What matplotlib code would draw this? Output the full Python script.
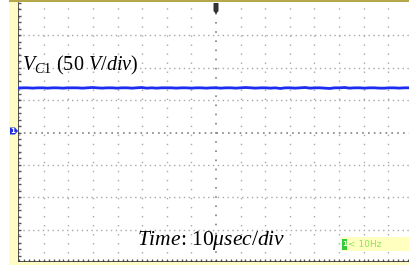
import matplotlib
matplotlib.use("Agg")
import matplotlib.pyplot as plt
from matplotlib.patches import Rectangle, Polygon
import numpy as np

plt.rcParams['mathtext.fontset'] = 'custom'
plt.rcParams['mathtext.rm'] = 'Liberation Serif'
plt.rcParams['mathtext.it'] = 'Liberation Serif:italic'
plt.rcParams['font.family'] = ['Liberation Serif', 'DejaVu Serif']

# Data (in screen divisions; 8 vertical divisions, centre = 0)
trace_time = np.linspace(-8.05, 7.85, 80)
trace_vc1 = [1.37, 1.38, 1.38, 1.37, 1.38, 1.38, 1.37, 1.38, 1.38, 1.37,
             1.38, 1.38, 1.38, 1.37, 1.38, 1.39, 1.38, 1.37, 1.38, 1.38,
             1.37, 1.38, 1.38, 1.37, 1.38, 1.39, 1.37, 1.38, 1.37, 1.38,
             1.38, 1.38, 1.37, 1.38, 1.38, 1.37, 1.38, 1.38, 1.37, 1.38,
             1.38, 1.37, 1.38, 1.38, 1.37, 1.38, 1.39, 1.38, 1.37, 1.38,
             1.38, 1.37, 1.38, 1.36, 1.38, 1.38, 1.37, 1.38, 1.39, 1.37,
             1.38, 1.38, 1.37, 1.36, 1.38, 1.38, 1.39, 1.37, 1.38, 1.38,
             1.37, 1.38, 1.38, 1.37, 1.37, 1.38, 1.38, 1.37, 1.38, 1.38]
label_signal = r"$V_{C\mathrm{1}}$ (50 $V/div$)"
label_time = r"$Time$: 10$\mu sec/div$"
label_trigger = "< 10Hz"

W, H = 409, 265
fig = plt.figure(figsize=(W / 100, H / 100), dpi=100)
fig.patch.set_facecolor('white')

def px_rect(x0, y0, x1, y1, **kw):
    fig.patches.append(Rectangle((x0 / W, 1 - y1 / H), (x1 - x0) / W, (y1 - y0) / H,
                                 transform=fig.transFigure, **kw))

px_rect(9, 0, 18, 265, facecolor='#fffcc6', edgecolor='none', zorder=0)
px_rect(9, 262, 409, 265, facecolor='#fffcc6', edgecolor='none', zorder=0)
px_rect(9, 0, 409, 1.5, facecolor='#b5a84a', edgecolor='none', zorder=0)

ax = fig.add_axes([18 / W, 3 / H, 391 / W, 259 / H])
ax.set_facecolor('white')
ax.set_xlim(-8.05, 7.85)
ax.set_ylim(-4, 4)

grid_col = '#a8a8a8'
for xv in range(-8, 8):
    if xv == 0:
        continue
    ax.axvline(xv, color=grid_col, lw=1.0, ls=(0, (1, 5.5)), zorder=1)
for yv in range(-3, 4):
    if yv == 0:
        continue
    ax.axhline(yv, color=grid_col, lw=1.0, ls=(0, (1, 2.5)), zorder=1)
ax.axvline(0, color='#808080', lw=1.2, ls=(0, (1, 4.5)), zorder=1)
ax.axhline(0, color='#808080', lw=1.2, ls=(0, (1, 2.5)), zorder=1)

for s in ['left', 'bottom']:
    ax.spines[s].set_color('#333333')
    ax.spines[s].set_linewidth(1.2)
ax.spines['top'].set_visible(False)
ax.spines['right'].set_visible(False)
ax.set_xticks(np.arange(-8, 8, 0.2), minor=True)
ax.set_yticks(np.arange(-4, 4.01, 0.2), minor=True)
ax.set_xticks([])
ax.set_yticks([])
ax.tick_params(which='minor', direction='in', length=2, width=1, color='#555555',
               labelbottom=False, labelleft=False)

ax.plot(trace_time, trace_vc1, color='#1c2cf0', lw=2.0, zorder=3)

fig.text(22 / W, 1 - 70 / H, label_signal, fontsize=14.5, color='black',
         ha='left', va='baseline')
fig.text(137 / W, 1 - 244.5 / H, label_time, fontsize=15.5, color='black',
         ha='left', va='baseline')

# trigger frequency box
px_rect(341, 237, 409, 251, facecolor='#ffffc0', edgecolor='none', zorder=5)
px_rect(342, 239, 346.5, 249.5, facecolor='#33cc33', edgecolor='none', zorder=6)
fig.text(344.2 / W, 1 - 244.5 / H, '1', fontsize=5, color='white', ha='center',
         va='center', fontweight='bold', family='DejaVu Sans', zorder=7)
fig.text(348 / W, 1 - 244.5 / H, label_trigger, fontsize=6.5, color='#8fe060',
         ha='left', va='center', family='Liberation Sans Narrow', zorder=7)

# channel 1 ground marker
fig.patches.append(Polygon([(10 / W, 1 - 127.5 / H), (15 / W, 1 - 127.5 / H),
                            (18 / W, 1 - 131 / H), (15 / W, 1 - 134.5 / H),
                            (10 / W, 1 - 134.5 / H)], closed=True,
                           transform=fig.transFigure, facecolor='#2030e0',
                           edgecolor='none', zorder=5))
fig.text(13 / W, 1 - 131 / H, '1', fontsize=5, color='white', ha='center',
         va='center', fontweight='bold', family='DejaVu Sans', zorder=6)

# trigger position marker
fig.patches.append(Polygon([(213.5 / W, 1 - 3 / H), (218.5 / W, 1 - 3 / H),
                            (218.5 / W, 1 - 11 / H), (216 / W, 1 - 14 / H),
                            (213.5 / W, 1 - 11 / H)], closed=True,
                           transform=fig.transFigure, facecolor='#333333',
                           edgecolor='none', zorder=5))

fig.savefig('out.png', dpi=100)
